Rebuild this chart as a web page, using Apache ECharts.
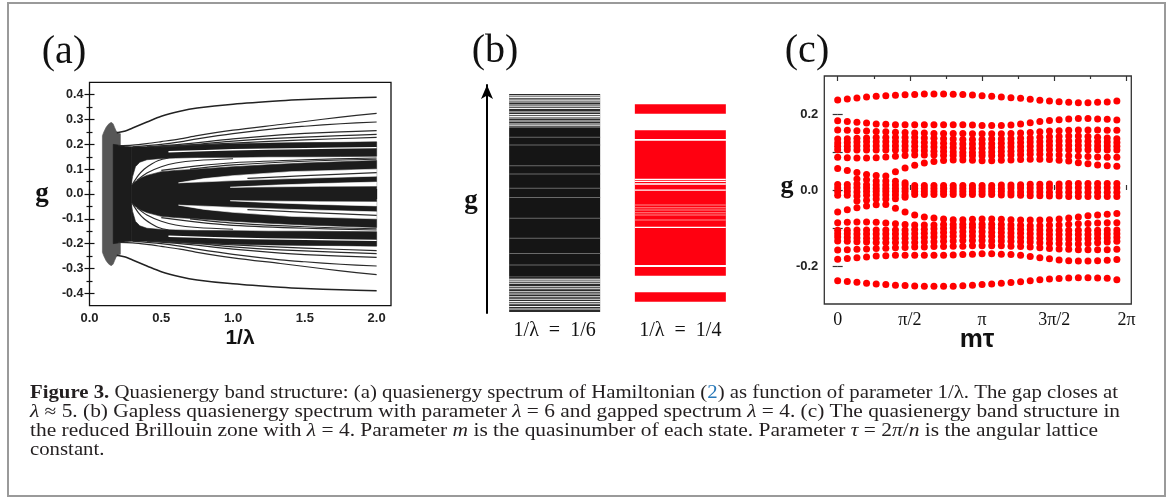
<!DOCTYPE html>
<html><head><meta charset="utf-8">
<script src="https://cdn.jsdelivr.net/npm/echarts@6/dist/echarts.min.js"></script>
<style>html,body{margin:0;padding:0;background:#fff}#c{width:1171px;height:497px}</style>
</head><body><div id="c"></div>
<script>
// ================= Panel (a) data =================
const aXTicks = [0, 0.5, 1.0, 1.5, 2.0];
const aXMinor = [0.25, 0.75, 1.25, 1.75];
const aYTicks = [-0.4, -0.3, -0.2, -0.1, 0, 0.1, 0.2, 0.3, 0.4];
const aYMinor = [-0.35, -0.25, -0.15, -0.05, 0.05, 0.15, 0.25, 0.35];

const aLens = [[0.09,0.235],[0.1,0.25],[0.115,0.268],[0.13,0.28],[0.145,0.287],[0.155,0.288],[0.165,0.282],[0.175,0.268],[0.185,0.255],[0.2,0.246],[0.215,0.243],
  [0.215,-0.243],[0.2,-0.246],[0.185,-0.255],[0.175,-0.268],[0.165,-0.282],[0.155,-0.288],[0.145,-0.287],[0.13,-0.28],[0.115,-0.268],[0.1,-0.25],[0.09,-0.235]];
const aBlock = [[0.165,0.2],[0.2,0.197],[0.25,0.192],[0.29,0.19],[0.29,-0.19],[0.25,-0.192],[0.2,-0.197],[0.165,-0.2]];
const aBandUp = [[0.29,0.19],[0.4,0.19],[0.5,0.192],[0.6,0.195],[0.75,0.198],[1.0,0.202],[1.25,0.205],[1.5,0.207],[1.75,0.208],[2.0,0.21],
  [2.0,0.152],[1.75,0.151],[1.5,0.15],[1.25,0.15],[1.0,0.148],[0.75,0.147],[0.6,0.145],[0.5,0.143],[0.4,0.138],[0.35,0.128],[0.32,0.11],[0.3,0.07],[0.29,0.035]];
const aBandDn = [[0.29,-0.19],[0.4,-0.19],[0.5,-0.192],[0.6,-0.195],[0.75,-0.198],[1.0,-0.202],[1.25,-0.205],[1.5,-0.207],[1.75,-0.208],[2.0,-0.21],
  [2.0,-0.152],[1.75,-0.151],[1.5,-0.15],[1.25,-0.15],[1.0,-0.148],[0.75,-0.147],[0.6,-0.145],[0.5,-0.143],[0.4,-0.138],[0.35,-0.128],[0.32,-0.11],[0.3,-0.07],[0.29,-0.035]];
const aCenter = [[0.29,0.035],[0.32,0.05],[0.36,0.065],[0.4,0.075],[0.5,0.09],[0.6,0.095],[0.75,0.1],[1.0,0.11],[1.25,0.118],[1.5,0.125],[1.75,0.13],[2.0,0.135],
  [2.0,-0.135],[1.75,-0.13],[1.5,-0.125],[1.25,-0.118],[1.0,-0.11],[0.75,-0.1],[0.6,-0.095],[0.5,-0.09],[0.4,-0.075],[0.36,-0.065],[0.32,-0.05],[0.29,-0.035]];
const aWedge1Up = [[0.62,0.045],[0.8,0.062],[1.0,0.074],[1.4,0.09],[2.0,0.1],[2.0,0.072],[1.4,0.062],[1.0,0.054],[0.8,0.049]];
const aWedge1Dn = [[0.62,-0.045],[0.8,-0.062],[1.0,-0.074],[1.4,-0.09],[2.0,-0.1],[2.0,-0.072],[1.4,-0.062],[1.0,-0.054],[0.8,-0.049]];
const aWedge2Up = [[0.98,0.027],[1.3,0.036],[1.6,0.042],[2.0,0.048],[2.0,0.032],[1.6,0.031],[1.3,0.029]];
const aWedge2Dn = [[0.98,-0.027],[1.3,-0.036],[1.6,-0.042],[2.0,-0.048],[2.0,-0.032],[1.6,-0.031],[1.3,-0.029]];

const aFan1Up = [[0.19,0.247],[0.25,0.254],[0.3,0.266],[0.4,0.29],[0.5,0.313],[0.63,0.333],[0.75,0.346],[1.0,0.362],[1.33,0.376],[1.5,0.381],[1.75,0.386],[2.0,0.39]];
const aFan1Dn = [[0.19,-0.247],[0.25,-0.254],[0.3,-0.266],[0.4,-0.29],[0.5,-0.313],[0.63,-0.333],[0.75,-0.346],[1.0,-0.362],[1.33,-0.376],[1.5,-0.381],[1.75,-0.386],[2.0,-0.39]];
const aFan2Up = [[0.2,0.195],[0.3,0.197],[0.4,0.203],[0.5,0.211],[0.63,0.222],[0.75,0.235],[1.0,0.257],[1.33,0.28],[1.5,0.292],[1.75,0.31],[2.0,0.325]];
const aFan2Dn = [[0.2,-0.195],[0.3,-0.197],[0.4,-0.203],[0.5,-0.211],[0.63,-0.222],[0.75,-0.235],[1.0,-0.257],[1.33,-0.28],[1.5,-0.292],[1.75,-0.31],[2.0,-0.325]];
const aFan3Up = [[0.3,0.19],[0.5,0.2],[0.63,0.21],[0.75,0.222],[1.0,0.243],[1.33,0.265],[1.5,0.273],[1.75,0.283],[2.0,0.29]];
const aFan3Dn = [[0.3,-0.19],[0.5,-0.2],[0.63,-0.21],[0.75,-0.222],[1.0,-0.243],[1.33,-0.265],[1.5,-0.273],[1.75,-0.283],[2.0,-0.29]];
const aFan4Up = [[0.4,0.19],[0.63,0.2],[1.0,0.222],[1.33,0.238],[1.5,0.244],[1.75,0.25],[2.0,0.255]];
const aFan4Dn = [[0.4,-0.19],[0.63,-0.2],[1.0,-0.222],[1.33,-0.238],[1.5,-0.244],[1.75,-0.25],[2.0,-0.255]];
const aFan5Up = [[0.45,0.19],[0.75,0.2],[1.0,0.213],[1.33,0.225],[1.75,0.235],[2.0,0.24]];
const aFan5Dn = [[0.45,-0.19],[0.75,-0.2],[1.0,-0.213],[1.33,-0.225],[1.75,-0.235],[2.0,-0.24]];
const aFan6Up = [[0.5,0.19],[1.0,0.205],[1.5,0.218],[2.0,0.228]];
const aFan6Dn = [[0.5,-0.19],[1.0,-0.205],[1.5,-0.218],[2.0,-0.228]];

const aGap1Up = [[0.3,0.04],[0.34,0.075],[0.38,0.1],[0.43,0.12],[0.48,0.135],[0.55,0.145]];
const aGap1Dn = [[0.3,-0.04],[0.34,-0.075],[0.38,-0.1],[0.43,-0.12],[0.48,-0.135],[0.55,-0.145]];
const aGap2Up = [[0.33,0.055],[0.4,0.085],[0.5,0.11],[0.6,0.125],[0.75,0.135],[1.0,0.142]];
const aGap2Dn = [[0.33,-0.055],[0.4,-0.085],[0.5,-0.11],[0.6,-0.125],[0.75,-0.135],[1.0,-0.142]];
const aGap3Up = [[0.5,0.095],[0.75,0.113],[1.0,0.126],[1.5,0.138],[2.0,0.145]];
const aGap3Dn = [[0.5,-0.095],[0.75,-0.113],[1.0,-0.126],[1.5,-0.138],[2.0,-0.145]];
const aGap4Up = [[0.7,0.1],[1.0,0.117],[1.5,0.132],[2.0,0.14]];
const aGap4Dn = [[0.7,-0.1],[1.0,-0.117],[1.5,-0.132],[2.0,-0.14]];
const aInWedgeUp = [[1.1,0.063],[1.5,0.074],[2.0,0.086]];
const aInWedgeDn = [[1.1,-0.063],[1.5,-0.074],[2.0,-0.086]];
const aStreakUp = [[0.55,0.17],[1.0,0.178],[1.5,0.183],[2.0,0.187]];
const aStreakDn = [[0.55,-0.17],[1.0,-0.178],[1.5,-0.183],[2.0,-0.187]];

// ================= Panel (b) data =================
const bCategories = ['1/λ  =  1/6', '1/λ  =  1/4'];
const bBlackSolid = [[-0.190, 0.195]];
const bBlackStriped = [[0.195, 0.281], [-0.281, -0.190]];
const bBlackGaps = [0.2765,0.272,0.2655,0.2606,0.2528,0.2485,0.2438,0.2348,0.2283,0.2235,0.2193,0.2116,0.2038,0.1995,
  -0.1969,-0.2015,-0.2072,-0.216,-0.2211,-0.2288,-0.2348,-0.2417,-0.2485,-0.2545,-0.26,-0.267,-0.2735];
const bBlackGray = [0.17,0.15,0.096,0.075,0.038,0.014,-0.039,-0.091,-0.13,-0.16];
const bRedBlocks = [[0.23,0.2546],[0.165,0.188],[-0.16,0.1607],[-0.188,-0.165],[-0.2546,-0.23]];
const bRedGaps = [0.0611,0.056,0.049,0.0335,-0.0627];
const bRedPale = [-0.005,-0.012,-0.018,-0.025,-0.031,-0.044];

// ================= Panel (c) data =================
const cXTicks = [0, 7.5, 15, 22.5, 30];
const cXMinor = [3.75, 11.25, 18.75, 26.25];
const cXLabels = ['0', 'π/2', 'π', '3π/2', '2π'];
const cYTicks = [-0.2, -0.1, 0, 0.1, 0.2];
const cYLabels = [-0.2, 0, 0.2];
const cM = [0,1,2,3,4,5,6,7,8,9,10,11,12,13,14,15,16,17,18,19,20,21,22,23,24,25,26,27,28,29];
const cT_up = [0.237,0.2395,0.242,0.2445,0.2466,0.248,0.2495,0.2505,0.2515,0.2525,0.2528,0.2525,0.252,0.2515,0.2501,0.2483,0.2466,0.2448,0.243,0.2413,0.2387,0.236,0.2342,0.2325,0.2307,0.2299,0.2299,0.2307,0.2316,0.2342];
const cA1_up = [0.182,0.180,0.178,0.176,0.174,0.173,0.172,0.172,0.172,0.172,0.172,0.172,0.172,0.1715,0.171,0.170,0.170,0.170,0.171,0.174,0.177,0.180,0.183,0.185,0.187,0.188,0.188,0.187,0.186,0.184];
const cA2_up = [0.158,0.157,0.156,0.155,0.154,0.153,0.152,0.151,0.150,0.150,0.149,0.149,0.149,0.149,0.148,0.148,0.148,0.148,0.149,0.150,0.151,0.153,0.155,0.156,0.157,0.158,0.158,0.158,0.157,0.157];
const cC1_up = [0.134,0.135,0.136,0.137,0.138,0.138,0.138,0.138,0.138,0.137,0.136,0.135,0.134,0.133,0.133,0.133,0.134,0.134,0.135,0.136,0.137,0.139,0.140,0.141,0.142,0.142,0.141,0.139,0.137,0.135];
const cC2_up = [0.124,0.125,0.126,0.127,0.127,0.127,0.127,0.127,0.126,0.125,0.124,0.123,0.122,0.121,0.121,0.122,0.122,0.123,0.124,0.125,0.126,0.127,0.128,0.129,0.129,0.129,0.128,0.127,0.126,0.125];
const cC3_up = [0.115,0.115,0.116,0.116,0.116,0.116,0.116,0.116,0.115,0.114,0.113,0.112,0.111,0.110,0.110,0.110,0.111,0.112,0.113,0.114,0.115,0.116,0.117,0.117,0.117,0.117,0.117,0.116,0.116,0.115];
const cC4_up = [0.106,0.106,0.105,0.105,0.105,0.105,0.105,0.105,0.104,0.103,0.102,0.101,0.100,0.099,0.099,0.099,0.100,0.101,0.102,0.103,0.104,0.105,0.106,0.106,0.106,0.106,0.106,0.106,0.105,0.105];
const cA3_up = [0.086,0.085,0.084,0.084,0.085,0.087,0.089,0.091,0.092,0.092,0.092,0.091,0.091,0.090,0.090,0.090,0.090,0.091,0.092,0.093,0.094,0.094,0.093,0.092,0.090,0.089,0.088,0.087,0.086,0.086];
const cX1_up = [0.0565,0.051,0.046,0.041,0.038,0.037,0.048,0.058,0.065,0.071,0.075,0.0775,0.079,0.079,0.078,0.077,0.077,0.078,0.079,0.080,0.081,0.081,0.080,0.078,0.076,0.072,0.069,0.066,0.064,0.0625];
const cX2_up = [null,null,0.029,0.027,0.024,0.024,0.023,0.019,null,null,null,null,null,null,null,null,null,null,null,null,null,null,null,null,null,null,null,null,null,null];
const cZ1 = [0.0145,0.0145,0.016,0.014,0.013,0.013,0.013,0.013,0.012,0.012,0.012,0.012,0.012,0.012,0.012,0.012,0.012,0.013,0.013,0.014,0.015,0.015,0.016,0.016,0.017,0.017,0.017,0.017,0.017,0.017];
const cZ2 = [0.005,0.005,0.006,0.005,0.004,0.004,0.004,0.004,0.004,0.004,0.004,0.004,0.004,0.004,0.004,0.004,0.004,0.004,0.005,0.005,0.005,0.005,0.006,0.006,0.006,0.006,0.006,0.006,0.006,0.006];
const cZ3 = [-0.004,-0.004,-0.005,-0.004,-0.004,-0.004,-0.004,-0.004,-0.004,-0.004,-0.004,-0.004,-0.004,-0.004,-0.004,-0.004,-0.004,-0.004,-0.005,-0.005,-0.005,-0.005,-0.006,-0.006,-0.006,-0.006,-0.006,-0.006,-0.006,-0.006];
const cZ4 = [-0.0135,-0.0135,-0.016,-0.014,-0.013,-0.013,-0.013,-0.013,-0.012,-0.012,-0.012,-0.012,-0.012,-0.012,-0.012,-0.012,-0.012,-0.013,-0.013,-0.014,-0.015,-0.015,-0.016,-0.016,-0.017,-0.017,-0.017,-0.017,-0.017,-0.017];
const cX2_dn = [null,null,-0.029,-0.027,-0.024,-0.024,-0.023,-0.019,null,null,null,null,null,null,null,null,null,null,null,null,null,null,null,null,null,null,null,null,null,null];
const cX1_dn = [-0.058,-0.052,-0.047,-0.042,-0.039,-0.038,-0.048,-0.058,-0.066,-0.071,-0.074,-0.076,-0.078,-0.078,-0.077,-0.076,-0.076,-0.077,-0.078,-0.079,-0.079,-0.079,-0.078,-0.076,-0.074,-0.071,-0.068,-0.066,-0.064,-0.062];
const cA3_dn = [-0.086,-0.085,-0.084,-0.084,-0.085,-0.087,-0.089,-0.091,-0.092,-0.092,-0.092,-0.091,-0.091,-0.090,-0.090,-0.090,-0.090,-0.091,-0.092,-0.093,-0.094,-0.094,-0.093,-0.092,-0.090,-0.089,-0.088,-0.087,-0.086,-0.086];
const cC4_dn = [-0.106,-0.106,-0.105,-0.105,-0.105,-0.105,-0.105,-0.105,-0.104,-0.103,-0.102,-0.101,-0.100,-0.099,-0.099,-0.099,-0.100,-0.101,-0.102,-0.103,-0.104,-0.105,-0.106,-0.106,-0.106,-0.106,-0.106,-0.106,-0.105,-0.105];
const cC3_dn = [-0.115,-0.115,-0.116,-0.116,-0.116,-0.116,-0.116,-0.116,-0.115,-0.114,-0.113,-0.112,-0.111,-0.110,-0.110,-0.110,-0.111,-0.112,-0.113,-0.114,-0.115,-0.116,-0.117,-0.117,-0.117,-0.117,-0.117,-0.116,-0.116,-0.115];
const cC2_dn = [-0.124,-0.125,-0.126,-0.127,-0.127,-0.127,-0.127,-0.127,-0.126,-0.125,-0.124,-0.123,-0.122,-0.121,-0.121,-0.122,-0.122,-0.123,-0.124,-0.125,-0.126,-0.127,-0.128,-0.129,-0.129,-0.129,-0.128,-0.127,-0.126,-0.125];
const cC1_dn = [-0.134,-0.135,-0.136,-0.137,-0.138,-0.138,-0.138,-0.138,-0.138,-0.137,-0.136,-0.135,-0.134,-0.133,-0.133,-0.133,-0.134,-0.134,-0.135,-0.136,-0.137,-0.139,-0.140,-0.141,-0.142,-0.142,-0.141,-0.139,-0.137,-0.135];
const cA2_dn = [-0.158,-0.157,-0.156,-0.155,-0.154,-0.153,-0.152,-0.151,-0.150,-0.150,-0.149,-0.149,-0.148,-0.148,-0.147,-0.147,-0.147,-0.147,-0.148,-0.149,-0.150,-0.152,-0.154,-0.155,-0.156,-0.157,-0.157,-0.157,-0.157,-0.156];
const cA1_dn = [-0.182,-0.180,-0.178,-0.176,-0.174,-0.173,-0.172,-0.172,-0.172,-0.172,-0.172,-0.172,-0.171,-0.170,-0.169,-0.168,-0.168,-0.169,-0.170,-0.172,-0.175,-0.178,-0.181,-0.184,-0.186,-0.187,-0.187,-0.186,-0.185,-0.183];
const cT_dn = [-0.2387,-0.241,-0.243,-0.2455,-0.2475,-0.249,-0.2505,-0.2515,-0.2525,-0.253,-0.2536,-0.2536,-0.253,-0.2519,-0.2505,-0.249,-0.2475,-0.2455,-0.2435,-0.2415,-0.239,-0.2365,-0.2345,-0.233,-0.2316,-0.2307,-0.2307,-0.2316,-0.2325,-0.236];

// ================= build =================
const SERIF = '"Liberation Serif", "DejaVu Serif", serif';
const SANS = '"Liberation Sans", Arial, sans-serif';
const INK = '#111';

function polySeries(polys, fill, z) {
  return { type: 'custom', xAxisIndex: 0, yAxisIndex: 0, z: z, silent: true, clip: false,
    data: polys.map(p => p[0]),
    renderItem: (params, api) => ({ type: 'polygon',
      shape: { points: polys[params.dataIndex].map(pt => api.coord(pt)) },
      style: { fill: fill, stroke: fill, lineWidth: 0.6 } }) };
}
function curveSeries(lines, color, width, z) {
  return { type: 'custom', xAxisIndex: 0, yAxisIndex: 0, z: z, silent: true, clip: false,
    data: lines.map(p => p[0]),
    renderItem: (params, api) => ({ type: 'polyline',
      shape: { points: lines[params.dataIndex].map(pt => api.coord(pt)), smooth: 0.3 },
      style: { stroke: color, lineWidth: width, fill: null } }) };
}
const bW = 91;
function bRanges(ranges, cat, fill) {
  return { type: 'custom', xAxisIndex: 4, yAxisIndex: 4, silent: true, z: 2,
    encode: { x: 0, y: [1, 2] },
    data: ranges.map(r => [cat, r[0], r[1]]),
    renderItem: (params, api) => {
      const t = api.coord([api.value(0), api.value(2)]);
      const b = api.coord([api.value(0), api.value(1)]);
      return { type: 'rect', shape: { x: t[0] - bW / 2, y: t[1], width: bW, height: b[1] - t[1] }, style: { fill: fill } };
    } };
}
function bLines(levels, cat, color, h) {
  return { type: 'custom', xAxisIndex: 4, yAxisIndex: 4, silent: true, z: 3,
    encode: { x: 0, y: 1 },
    data: levels.map(g => [cat, g]),
    renderItem: (params, api) => {
      const p = api.coord([api.value(0), api.value(1)]);
      return { type: 'rect', shape: { x: p[0] - bW / 2, y: p[1] - h / 2, width: bW, height: h }, style: { fill: color } };
    } };
}

const cLevels = [cT_up, cA1_up, cA2_up, cC1_up, cC2_up, cC3_up, cC4_up, cA3_up, cX1_up, cX2_up, cZ1, cZ2, cZ3, cZ4,
  cX2_dn, cX1_dn, cA3_dn, cC4_dn, cC3_dn, cC2_dn, cC1_dn, cA2_dn, cA1_dn, cT_dn];
const cPoints = [];
cLevels.forEach(L => L.forEach((g, i) => { if (g !== null) cPoints.push([cM[i], g]); }));

function ax(extra) {
  return Object.assign({ type: 'value', axisLine: { show: false }, splitLine: { show: false },
    axisLabel: { show: false }, axisTick: { show: false } }, extra);
}
function ticks(vals, len, color) {
  return { show: true, inside: false, length: -len, customValues: vals, lineStyle: { color: color || INK, width: 1.2 } };
}

const xAxes = [
  ax({ gridIndex: 0, min: 0, max: 2.1, position: 'bottom', axisTick: ticks(aXTicks, 5),
    axisLabel: { show: true, customValues: aXTicks, formatter: v => v.toFixed(1), margin: 6, color: '#222', fontFamily: SANS, fontWeight: 'bold', fontSize: 13 } }),
  ax({ gridIndex: 0, min: 0, max: 2.1, position: 'bottom', axisTick: ticks(aXMinor, 3) }),
  ax({ gridIndex: 0, min: 0, max: 2.1, position: 'top', axisTick: ticks(aXTicks, 5) }),
  ax({ gridIndex: 0, min: 0, max: 2.1, position: 'top', axisTick: ticks(aXMinor, 3) }),
  { gridIndex: 1, type: 'category', data: bCategories, axisLine: { show: false }, axisTick: { show: false },
    axisLabel: { margin: 8, color: '#111', fontFamily: SERIF, fontSize: 20 } },
  ax({ gridIndex: 2, min: -1.39, max: 30.5, position: 'bottom', axisTick: ticks(cXTicks, 5, '#333'),
    axisLabel: { show: true, customValues: cXTicks, formatter: v => cXLabels[cXTicks.indexOf(v)], margin: 7, color: '#111', fontFamily: SERIF, fontSize: 18 } }),
  ax({ gridIndex: 2, min: -1.39, max: 30.5, position: 'bottom', axisTick: ticks(cXMinor, 3, '#333') }),
  ax({ gridIndex: 2, min: -1.39, max: 30.5, position: 'top', axisTick: ticks(cXTicks, 5, '#333') }),
  ax({ gridIndex: 2, min: -1.39, max: 30.5, position: 'top', axisTick: ticks(cXMinor, 3, '#333') })
];
const yAxes = [
  ax({ gridIndex: 0, min: -0.45, max: 0.45, position: 'left', axisTick: ticks(aYTicks, 5),
    axisLabel: { show: true, customValues: aYTicks, formatter: v => v.toFixed(1), margin: 6, color: '#222', fontFamily: SANS, fontWeight: 'bold', fontSize: 12.5 } }),
  ax({ gridIndex: 0, min: -0.45, max: 0.45, position: 'left', axisTick: ticks(aYMinor, 3) }),
  ax({ gridIndex: 0, min: -0.45, max: 0.45, position: 'right', axisTick: ticks(aYTicks, 5) }),
  ax({ gridIndex: 0, min: -0.45, max: 0.45, position: 'right', axisTick: ticks(aYMinor, 3) }),
  ax({ gridIndex: 1, min: -0.2838, max: 0.3045, position: 'left', offset: 4.8,
    axisLine: { show: true, symbol: ['none', 'arrow'], symbolSize: [9, 14], lineStyle: { color: '#000', width: 2 } } }),
  ax({ gridIndex: 2, min: -0.3, max: 0.3, position: 'left', axisTick: ticks(cYTicks, 5, '#333'),
    axisLabel: { show: true, customValues: cYLabels, formatter: v => v.toFixed(1), margin: 6, color: '#222', fontFamily: SANS, fontWeight: 'bold', fontSize: 13 } }),
  ax({ gridIndex: 2, min: -0.3, max: 0.3, position: 'right', axisTick: ticks(cYTicks, 5, '#333') })
];

const series = [
  polySeries([aLens], '#575757', 2),
  polySeries([aBlock, aBandUp, aBandDn, aCenter], '#1c1c1c', 2),
  polySeries([aWedge1Up, aWedge1Dn, aWedge2Up, aWedge2Dn], '#ffffff', 3),
  curveSeries([aStreakUp, aStreakDn], '#ffffff', 1.4, 4),
  curveSeries([aFan1Up, aFan1Dn], '#222', 1.5, 5),
  curveSeries([aFan2Up, aFan2Dn, aFan3Up, aFan3Dn, aFan4Up, aFan4Dn, aFan5Up, aFan5Dn, aFan6Up, aFan6Dn,
    aGap1Up, aGap1Dn, aGap2Up, aGap2Dn, aGap3Up, aGap3Dn, aGap4Up, aGap4Dn, aInWedgeUp, aInWedgeDn], '#2a2a2a', 1.2, 5),
  bRanges(bBlackSolid, 0, '#151515'),
  bRanges(bBlackStriped, 0, '#2b2b2b'),
  bLines(bBlackGaps, 0, '#f2f2f2', 1.1),
  bLines(bBlackGray, 0, '#6a6a6a', 1),
  bRanges(bRedBlocks, 1, '#ff0010'),
  bLines(bRedGaps, 1, '#ffffff', 1.3),
  bLines(bRedPale, 1, '#ff8a8a', 1),
  { type: 'scatter', xAxisIndex: 5, yAxisIndex: 5, data: cPoints, symbolSize: 7, silent: true,
    itemStyle: { color: '#ff0000', opacity: 1 } }
];

// ---- caption (each line stretched to the width it has in the reference) ----
const CAPSIZE = 18;
function rs(w, s, c) { return { fontFamily: SERIF, fontSize: CAPSIZE, fontWeight: w, fontStyle: s, fill: c || '#231f20' }; }
const capRich = { n: rs('normal', 'normal'), b: rs('bold', 'normal'), i: rs('normal', 'italic'), l: rs('normal', 'normal', '#2878b8') };
const capLines = [
  '{b|Figure 3.}{n| Quasienergy band structure: (a) quasienergy spectrum of Hamiltonian (}{l|2}{n|) as function of parameter 1/λ. The gap closes at}',
  '{i|λ}{n| ≈ 5. (b) Gapless quasienergy spectrum with parameter }{i|λ}{n| = 6 and gapped spectrum }{i|λ}{n| = 4. (c) The quasienergy band structure in}',
  '{n|the reduced Brillouin zone with }{i|λ}{n| = 4. Parameter }{i|m}{n| is the quasinumber of each state. Parameter }{i|τ}{n| = 2}{i|π}{n|/}{i|n}{n| is the angular lattice}',
  '{n|constant.}'
];
const capY = [393, 412, 431, 450];
const capWidth = [1088, 1090, 1068, 0];
const mctx = document.createElement('canvas').getContext('2d');
function richWidth(line) {
  let w = 0;
  line.replace(/\{(\w)\|([^}]*)\}/g, (m, k, t) => {
    mctx.font = (k === 'i' ? 'italic ' : '') + (k === 'b' ? 'bold ' : '') + CAPSIZE + 'px "Liberation Serif"';
    w += mctx.measureText(t).width; return '';
  });
  return w;
}
const capScale = capLines.map((l, k) => capWidth[k] ? capWidth[k] / richWidth(l) : capWidth[0] / richWidth(capLines[0]));

function txt(x, y, text, size, family, weight) {
  return { type: 'text', x: x, y: y, z: 100, silent: true,
    style: { text: text, fontSize: size, fontFamily: family, fontWeight: weight || 'normal', fill: '#111',
      align: 'center', verticalAlign: 'middle' } };
}
const graphics = [
  { type: 'rect', z: 50, silent: true, shape: { x: 8, y: 3, width: 1157, height: 493 }, style: { fill: null, stroke: '#9a9a9a', lineWidth: 2 } },
  txt(64, 52, '(a)', 40, SERIF), txt(495, 51, '(b)', 40, SERIF), txt(807, 51, '(c)', 40, SERIF),
  txt(42, 194, 'g', 27, SERIF, 'bold'), txt(471, 201, 'g', 27, SERIF, 'bold'), txt(787, 186, 'g', 26, SERIF, 'bold'),
  txt(240, 338, '1/λ', 21, SANS, 'bold'), txt(977, 340, 'mτ', 26, SANS, 'bold')
];
capLines.forEach((t, k) => graphics.push({ type: 'text', x: 30, y: capY[k], z: 100, silent: true, scaleX: capScale[k],
  style: { text: t, rich: capRich, fontFamily: SERIF, fontSize: CAPSIZE, fill: '#231f20', align: 'left', verticalAlign: 'middle' } }));

const chart = echarts.init(document.getElementById('c'), null, { renderer: 'canvas' });
chart.setOption({
  animation: false,
  backgroundColor: '#fff',
  grid: [
    { left: 89.5, top: 82.3, width: 301.5, height: 223.4, show: true, borderColor: INK, borderWidth: 1.3, backgroundColor: 'transparent' },
    { left: 491.8, top: 85, width: 251.4, height: 228 },
    { left: 824.3, top: 76, width: 307, height: 228, show: true, borderColor: '#333', borderWidth: 1.3, backgroundColor: 'transparent' }
  ],
  xAxis: xAxes,
  yAxis: yAxes,
  series: series,
  graphic: { elements: graphics }
});
</script></body></html>
